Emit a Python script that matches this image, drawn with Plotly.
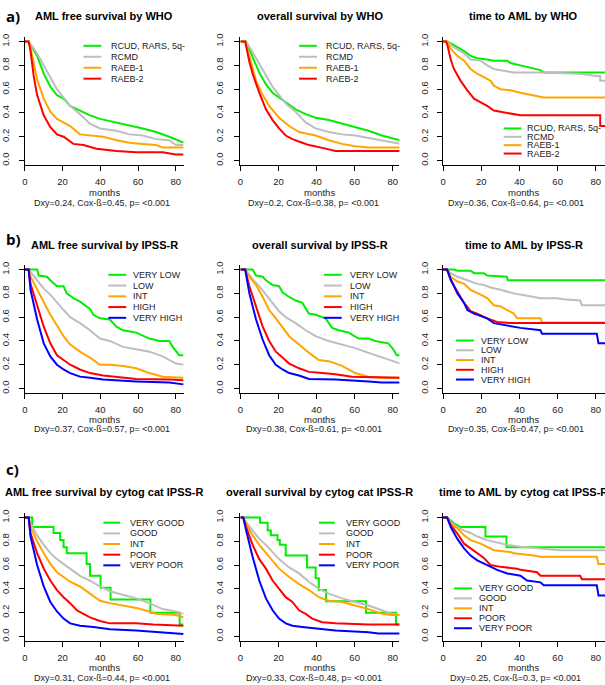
import plotly.graph_objects as go

W, H = 605, 685
GREEN, GRAY, ORANGE, RED, BLUE = '#00ee00', '#bebebe', '#ffa500', '#ff0000', '#0000ff'
FONT = 'Liberation Sans, Arial, sans-serif'

month_ticks = [0, 20, 40, 60, 80]
surv_ticks = [0.0, 0.2, 0.4, 0.6, 0.8, 1.0]
surv_labels = ['0.0', '0.2', '0.4', '0.6', '0.8', '1.0']

who_labels = ['RCUD, RARS, 5q-', 'RCMD', 'RAEB-1', 'RAEB-2']
ipss_labels = ['VERY LOW', 'LOW', 'INT', 'HIGH', 'VERY HIGH']
cyto_labels = ['VERY GOOD', 'GOOD', 'INT', 'POOR', 'VERY POOR']

titles = [
    'AML free survival by WHO', 'overall survival by WHO', 'time to AML by WHO',
    'AML free survival by IPSS-R', 'overall survival by IPSS-R', 'time to AML by IPSS-R',
    'AML free survival by cytog cat IPSS-R', 'overall survival by cytog cat IPSS-R',
    'time to AML by cytog cat IPSS-R',
]
stats = [
    'Dxy=0.24, Cox-ß=0.45, p= &lt;0.001', 'Dxy=0.2, Cox-ß=0.38, p= &lt;0.001',
    'Dxy=0.36, Cox-ß=0.64, p= &lt;0.001',
    'Dxy=0.37, Cox-ß=0.57, p= &lt;0.001', 'Dxy=0.38, Cox-ß=0.61, p= &lt;0.001',
    'Dxy=0.35, Cox-ß=0.47, p= &lt;0.001',
    'Dxy=0.31, Cox-ß=0.44, p= &lt;0.001', 'Dxy=0.33, Cox-ß=0.48, p= &lt;0.001',
    'Dxy=0.25, Cox-ß=0.3, p= &lt;0.001',
]

# ---------------- a) WHO : AML free survival ----------------
a1_rcud_t = [0, 2, 6.5, 10, 13.5, 17, 20.5, 24, 29.2, 34.5, 39.8, 48.5, 55.5, 62.5, 69.5, 76.5, 84]
a1_rcud_s = [1, 1, 0.88, 0.73, 0.62, 0.55, 0.52, 0.46, 0.42, 0.38, 0.35, 0.32, 0.29, 0.27, 0.24, 0.20, 0.15]
a1_rcmd_t = [0, 2, 6.5, 10, 13.5, 17, 20.5, 24, 29.2, 34.5, 39.8, 48.5, 55.5, 62.5, 69.5, 76.5, 80, 84]
a1_rcmd_s = [1, 1, 0.90, 0.80, 0.70, 0.60, 0.53, 0.46, 0.39, 0.31, 0.27, 0.25, 0.22, 0.21, 0.18, 0.17, 0.13, 0.13]
a1_raeb1_t = [0, 2, 3, 6.5, 10, 13.5, 17, 24, 29.2, 34.5, 41.5, 48.5, 55.5, 62.5, 69.5, 73, 84]
a1_raeb1_s = [1, 1, 0.95, 0.68, 0.52, 0.41, 0.35, 0.29, 0.22, 0.21, 0.20, 0.17, 0.15, 0.14, 0.13, 0.11, 0.11]
a1_raeb2_t = [0, 2, 3, 4.7, 6.5, 10, 13.5, 17, 20.5, 25.7, 31, 36.3, 38, 48.5, 59, 73, 76.5, 80, 84]
a1_raeb2_s = [1, 1, 0.92, 0.71, 0.55, 0.38, 0.28, 0.22, 0.20, 0.14, 0.13, 0.11, 0.10, 0.08, 0.07, 0.07, 0.06, 0.05, 0.05]

# ---------------- a) WHO : overall survival ----------------
a2_rcud_t = [0, 3, 6.4, 9.9, 13.4, 16.9, 20.3, 23.8, 29.0, 34.3, 39.5, 46.4, 53.4, 60.3, 67.3, 74.3, 79.5, 84]
a2_rcud_s = [1, 1, 0.87, 0.74, 0.64, 0.57, 0.53, 0.49, 0.43, 0.39, 0.36, 0.34, 0.31, 0.28, 0.25, 0.21, 0.19, 0.17]
a2_rcmd_t = [0, 3, 6.4, 9.9, 13.4, 16.9, 20.3, 23.8, 29.0, 34.3, 39.5, 46.4, 53.4, 60.3, 67.3, 74.3, 79.5, 84]
a2_rcmd_s = [1, 1, 0.91, 0.81, 0.71, 0.62, 0.55, 0.48, 0.41, 0.32, 0.27, 0.24, 0.22, 0.21, 0.19, 0.17, 0.15, 0.14]
a2_raeb1_t = [0, 2.5, 4.7, 8.2, 11.7, 15.1, 20.3, 25.6, 30.8, 39.5, 46.4, 53.4, 60.3, 67.3, 84]
a2_raeb1_s = [1, 1, 0.88, 0.67, 0.55, 0.46, 0.36, 0.29, 0.24, 0.21, 0.17, 0.14, 0.12, 0.11, 0.11]
a2_raeb2_t = [0, 2.5, 4.7, 6.4, 9.9, 13.4, 16.9, 20.3, 23.8, 27.3, 32.5, 36, 44.7, 49.9, 77.7, 84]
a2_raeb2_s = [1, 1, 0.83, 0.73, 0.57, 0.43, 0.34, 0.27, 0.21, 0.18, 0.15, 0.13, 0.10, 0.08, 0.08, 0.08]

# ---------------- a) WHO : time to AML ----------------
a3_rcud_t = [0, 2.3, 5.7, 11.0, 14.4, 17.9, 23.1, 26.6, 33.6, 35.3, 40.5, 47.5, 51.0, 52.7, 85]
a3_rcud_s = [1, 1, 0.97, 0.92, 0.88, 0.86, 0.85, 0.84, 0.84, 0.82, 0.80, 0.77, 0.76, 0.74, 0.74]
a3_rcmd_t = [0, 2.3, 5.7, 11.0, 14.4, 19.7, 23.1, 26.6, 30.1, 37.0, 51.0, 71.8, 80.5, 82.3, 82.3, 85]
a3_rcmd_s = [1, 1, 0.95, 0.90, 0.85, 0.84, 0.80, 0.77, 0.76, 0.74, 0.74, 0.73, 0.71, 0.71, 0.67, 0.67]
a3_raeb1_t = [0, 2.3, 4.0, 7.5, 11.0, 14.4, 17.9, 21.4, 24.9, 26.6, 30.1, 35.3, 40.5, 52.7, 85]
a3_raeb1_s = [1, 1, 0.94, 0.88, 0.84, 0.77, 0.73, 0.70, 0.67, 0.63, 0.60, 0.59, 0.57, 0.53, 0.53]
a3_raeb2_t = [0, 1.6, 2.3, 4.0, 5.7, 9.2, 12.7, 16.2, 19.7, 23.1, 26.6, 30.1, 40.5, 82.3, 82.3, 85]
a3_raeb2_s = [1, 1, 0.97, 0.85, 0.77, 0.67, 0.59, 0.52, 0.49, 0.46, 0.42, 0.41, 0.38, 0.38, 0.29, 0.29]

# ---------------- b) IPSS-R : AML free survival ----------------
b1_vlow_t = [0, 6.5, 7.4, 11.7, 13.5, 17, 20.5, 22.2, 25.7, 29.2, 34.5, 36.3, 39.8, 45, 48.5, 52, 59, 66, 71.3, 76.5, 78.3, 81.8, 84]
b1_vlow_s = [1, 1, 0.95, 0.94, 0.91, 0.86, 0.86, 0.80, 0.76, 0.73, 0.67, 0.62, 0.59, 0.58, 0.52, 0.49, 0.47, 0.42, 0.40, 0.40, 0.35, 0.28, 0.28]
b1_low_t = [0, 2, 3, 6.5, 10, 13.5, 17, 20.5, 24, 29.2, 34.5, 39.8, 45, 52, 59, 66, 73, 80, 84]
b1_low_s = [1, 1, 0.98, 0.91, 0.84, 0.79, 0.72, 0.66, 0.60, 0.55, 0.49, 0.42, 0.40, 0.35, 0.33, 0.31, 0.27, 0.21, 0.20]
b1_int_t = [0, 2, 3, 6.5, 10, 13.5, 17, 20.5, 24, 29.2, 34.5, 39.8, 45, 52, 59, 66, 73, 80, 84]
b1_int_s = [1, 1, 0.94, 0.83, 0.72, 0.62, 0.53, 0.44, 0.37, 0.31, 0.26, 0.20, 0.20, 0.19, 0.17, 0.13, 0.10, 0.09, 0.09]
b1_high_t = [0, 2, 3, 6.5, 10, 13.5, 17, 20.5, 24, 29.2, 34.5, 41.5, 48.5, 59, 76.5, 84]
b1_high_s = [1, 1, 0.88, 0.69, 0.52, 0.38, 0.28, 0.24, 0.20, 0.16, 0.13, 0.11, 0.10, 0.08, 0.075, 0.07]
b1_vhigh_t = [0, 2, 3, 6.5, 10, 13.5, 17, 20.5, 24, 29.2, 34.5, 41.5, 59, 76.5, 84]
b1_vhigh_s = [1, 1, 0.83, 0.58, 0.38, 0.27, 0.20, 0.16, 0.13, 0.10, 0.09, 0.075, 0.06, 0.05, 0.035]

# ---------------- b) IPSS-R : overall survival ----------------
b2_vlow_t = [0, 6.4, 8.2, 11.7, 13.4, 16.9, 20.3, 22.1, 25.6, 29.0, 32.5, 36.0, 39.5, 44.7, 48.2, 51.7, 56.9, 62.1, 67.3, 70.8, 77.7, 80.3, 82.1, 84]
b2_vlow_s = [1, 1, 0.95, 0.94, 0.91, 0.87, 0.86, 0.81, 0.77, 0.74, 0.72, 0.63, 0.62, 0.59, 0.51, 0.49, 0.47, 0.42, 0.42, 0.40, 0.38, 0.33, 0.28, 0.28]
b2_low_t = [0, 2.5, 6.4, 9.9, 13.4, 16.9, 20.3, 23.8, 29.0, 34.3, 39.5, 46.4, 53.4, 60.3, 67.3, 74.3, 79.5, 84]
b2_low_s = [1, 1, 0.92, 0.86, 0.79, 0.72, 0.65, 0.60, 0.55, 0.49, 0.44, 0.40, 0.37, 0.34, 0.30, 0.26, 0.23, 0.21]
b2_int_t = [0, 2.5, 4.7, 8.2, 11.7, 15.1, 18.6, 22.1, 25.6, 30.8, 36.0, 41.2, 46.4, 53.4, 60.3, 67.3, 74.3, 84]
b2_int_s = [1, 1, 0.94, 0.87, 0.77, 0.66, 0.59, 0.52, 0.44, 0.37, 0.30, 0.24, 0.23, 0.19, 0.13, 0.10, 0.09, 0.09]
b2_high_t = [0, 2.5, 4.7, 8.2, 11.7, 15.1, 18.6, 22.1, 25.6, 30.8, 36.0, 43.0, 49.9, 58.6, 74.3, 84]
b2_high_s = [1, 1, 0.86, 0.69, 0.52, 0.40, 0.31, 0.26, 0.21, 0.17, 0.14, 0.13, 0.12, 0.10, 0.09, 0.09]
b2_vhigh_t = [0, 2.5, 4.7, 8.2, 11.7, 15.1, 18.6, 22.1, 25.6, 30.8, 36.0, 49.9, 67.3, 74.3, 84]
b2_vhigh_s = [1, 1, 0.80, 0.58, 0.41, 0.28, 0.20, 0.16, 0.13, 0.11, 0.08, 0.075, 0.06, 0.05, 0.05]

# ---------------- b) IPSS-R : time to AML ----------------
b3_vlow_t = [0, 5.7, 7.5, 14.4, 16.2, 21.4, 23.1, 30.1, 33.4, 33.9, 85]
b3_vlow_s = [1, 1, 0.99, 0.99, 0.97, 0.97, 0.95, 0.94, 0.94, 0.91, 0.91]
b3_low_t = [0, 2.1, 4.0, 7.5, 12.7, 17.9, 21.4, 24.9, 30.1, 37.0, 44.0, 51.0, 59.7, 63.1, 71.8, 72.7, 85]
b3_low_s = [1, 1, 0.97, 0.94, 0.91, 0.88, 0.87, 0.85, 0.83, 0.80, 0.78, 0.76, 0.76, 0.75, 0.74, 0.70, 0.70]
b3_int_t = [0, 2.1, 4.0, 7.5, 11.0, 14.4, 19.7, 23.1, 26.6, 30.1, 33.6, 37.0, 38.8, 51.0, 51.8, 85]
b3_int_s = [1, 1, 0.94, 0.90, 0.88, 0.83, 0.79, 0.76, 0.70, 0.69, 0.66, 0.63, 0.59, 0.59, 0.555, 0.555]
b3_high_t = [0, 2.1, 4.0, 7.5, 11.0, 14.4, 17.9, 23.1, 28.3, 35.3, 85]
b3_high_s = [1, 1, 0.91, 0.81, 0.72, 0.65, 0.63, 0.59, 0.56, 0.55, 0.55]
b3_vhigh_t = [0, 2.1, 4.0, 7.5, 11.0, 12.7, 16.2, 23.1, 26.6, 31.8, 38.8, 40.5, 51.0, 51.8, 80.5, 81.4, 85]
b3_vhigh_s = [1, 1, 0.92, 0.80, 0.72, 0.66, 0.63, 0.59, 0.55, 0.535, 0.52, 0.51, 0.49, 0.46, 0.46, 0.38, 0.38]

# ---------------- c) cytogenetics : AML free survival ----------------
c1_vgood_t = [0, 3.9, 3.9, 15.2, 15.2, 18.7, 18.7, 20.5, 20.5, 22.2, 22.2, 32.7, 32.7, 34.5, 34.5, 40.1, 40.1, 45.4, 45.4, 66.5, 66.5, 82, 82, 84]
c1_vgood_s = [1, 1, 0.92, 0.92, 0.87, 0.87, 0.81, 0.81, 0.75, 0.75, 0.70, 0.70, 0.61, 0.61, 0.51, 0.51, 0.41, 0.41, 0.31, 0.31, 0.20, 0.20, 0.10, 0.10]
c1_good_t = [0, 2, 3, 6.5, 10, 13.5, 17, 20.5, 24, 29.2, 34.5, 39.8, 45, 52, 59, 66, 73, 80, 84]
c1_good_s = [1, 1, 0.95, 0.85, 0.77, 0.70, 0.65, 0.61, 0.57, 0.51, 0.47, 0.42, 0.38, 0.35, 0.32, 0.28, 0.23, 0.21, 0.19]
c1_int_t = [0, 2, 3, 6.5, 10, 13.5, 17, 20.5, 24, 29.2, 34.5, 39.8, 45, 52, 59, 66, 69.5, 80, 84]
c1_int_s = [1, 1, 0.92, 0.80, 0.70, 0.61, 0.54, 0.50, 0.46, 0.42, 0.36, 0.30, 0.28, 0.26, 0.24, 0.21, 0.19, 0.18, 0.16]
c1_poor_t = [0, 2, 3, 6.5, 10, 13.5, 17, 20.5, 24, 27.5, 31, 34.5, 39.8, 45, 59, 68, 84]
c1_poor_s = [1, 1, 0.87, 0.70, 0.57, 0.47, 0.39, 0.33, 0.28, 0.22, 0.19, 0.16, 0.13, 0.11, 0.11, 0.10, 0.09]
c1_vpoor_t = [0, 2, 3, 6.5, 10, 13.5, 17, 20.5, 24, 29.2, 36.3, 45, 59, 69.5, 84]
c1_vpoor_s = [1, 1, 0.84, 0.60, 0.42, 0.29, 0.21, 0.15, 0.11, 0.09, 0.08, 0.06, 0.05, 0.04, 0.02]

# ---------------- c) cytogenetics : overall survival ----------------
c2_vgood_t = [0, 10.3, 10.3, 14.3, 14.3, 16, 16, 19.5, 19.5, 20.7, 20.7, 23.8, 23.8, 35, 35, 39.5, 39.5, 41.2, 41.2, 45, 45, 66, 66, 81.7, 81.7, 84]
c2_vgood_s = [1, 1, 0.955, 0.955, 0.89, 0.89, 0.85, 0.85, 0.81, 0.81, 0.77, 0.77, 0.68, 0.68, 0.58, 0.58, 0.49, 0.49, 0.39, 0.39, 0.295, 0.295, 0.20, 0.20, 0.10, 0.10]
c2_good_t = [0, 1.5, 3.0, 6.4, 9.9, 13.4, 16.9, 20.3, 25.6, 30.8, 36.0, 41.2, 46.4, 53.4, 60.3, 67.3, 74.3, 79.5, 84]
c2_good_s = [1, 1, 0.96, 0.89, 0.82, 0.77, 0.71, 0.65, 0.58, 0.53, 0.46, 0.40, 0.36, 0.32, 0.29, 0.26, 0.22, 0.19, 0.18]
c2_int_t = [0, 1.5, 3.0, 6.4, 9.9, 13.4, 16.9, 20.3, 25.6, 30.8, 36.0, 41.2, 46.4, 53.4, 60.3, 67.3, 74.3, 79.5, 84]
c2_int_s = [1, 1, 0.95, 0.85, 0.77, 0.70, 0.64, 0.57, 0.50, 0.44, 0.39, 0.33, 0.30, 0.29, 0.26, 0.23, 0.19, 0.18, 0.18]
c2_poor_t = [0, 1.5, 3.0, 6.4, 9.9, 13.4, 16.9, 20.3, 23.8, 27.3, 30.8, 34.3, 37.7, 43.0, 49.9, 67.3, 84]
c2_poor_s = [1, 1, 0.92, 0.77, 0.65, 0.57, 0.47, 0.40, 0.33, 0.29, 0.22, 0.19, 0.15, 0.12, 0.11, 0.10, 0.10]
c2_vpoor_t = [0, 1.5, 3.0, 6.4, 9.9, 13.4, 16.9, 20.3, 23.8, 27.3, 32.5, 41.2, 49.9, 67.3, 72.5, 84]
c2_vpoor_s = [1, 1, 0.89, 0.67, 0.47, 0.32, 0.22, 0.15, 0.11, 0.09, 0.08, 0.065, 0.05, 0.035, 0.025, 0.025]

# ---------------- c) cytogenetics : time to AML ----------------
c3_vgood_t = [0, 2.3, 5.7, 9.2, 22.2, 22.2, 33.2, 33.2, 85]
c3_vgood_s = [1, 1, 0.95, 0.92, 0.92, 0.84, 0.84, 0.75, 0.75]
c3_good_t = [0, 2.1, 4.0, 7.5, 11.0, 14.4, 17.9, 23.1, 28.3, 33.6, 40.5, 51.0, 61.4, 85]
c3_good_s = [1, 1, 0.96, 0.92, 0.89, 0.87, 0.84, 0.81, 0.79, 0.77, 0.755, 0.74, 0.725, 0.725]
c3_int_t = [0, 2.1, 4.0, 7.5, 11.0, 14.4, 19.7, 26.6, 35.3, 37.0, 47.5, 51.0, 80.5, 81.4, 85]
c3_int_s = [1, 1, 0.95, 0.91, 0.85, 0.81, 0.78, 0.725, 0.71, 0.70, 0.68, 0.67, 0.67, 0.61, 0.61]
c3_poor_t = [0, 2.1, 4.0, 7.5, 11.0, 14.4, 17.9, 21.4, 24.9, 30.1, 38.8, 40.5, 49.2, 51.0, 71.8, 72.7, 85]
c3_poor_s = [1, 1, 0.935, 0.865, 0.78, 0.74, 0.70, 0.66, 0.60, 0.585, 0.57, 0.56, 0.54, 0.51, 0.51, 0.48, 0.48]
c3_vpoor_t = [0, 2.1, 4.0, 7.5, 11.0, 14.4, 17.9, 23.1, 28.3, 33.6, 40.5, 44.0, 51.0, 52.7, 80.5, 81.4, 85]
c3_vpoor_s = [1, 1, 0.92, 0.82, 0.74, 0.68, 0.64, 0.60, 0.56, 0.53, 0.51, 0.47, 0.455, 0.43, 0.43, 0.345, 0.345]

colors5 = [GREEN, GRAY, ORANGE, RED, BLUE]

panel_series = [
    [(a1_rcud_t, a1_rcud_s), (a1_rcmd_t, a1_rcmd_s), (a1_raeb1_t, a1_raeb1_s), (a1_raeb2_t, a1_raeb2_s)],
    [(a2_rcud_t, a2_rcud_s), (a2_rcmd_t, a2_rcmd_s), (a2_raeb1_t, a2_raeb1_s), (a2_raeb2_t, a2_raeb2_s)],
    [(a3_rcud_t, a3_rcud_s), (a3_rcmd_t, a3_rcmd_s), (a3_raeb1_t, a3_raeb1_s), (a3_raeb2_t, a3_raeb2_s)],
    [(b1_vlow_t, b1_vlow_s), (b1_low_t, b1_low_s), (b1_int_t, b1_int_s), (b1_high_t, b1_high_s), (b1_vhigh_t, b1_vhigh_s)],
    [(b2_vlow_t, b2_vlow_s), (b2_low_t, b2_low_s), (b2_int_t, b2_int_s), (b2_high_t, b2_high_s), (b2_vhigh_t, b2_vhigh_s)],
    [(b3_vlow_t, b3_vlow_s), (b3_low_t, b3_low_s), (b3_int_t, b3_int_s), (b3_high_t, b3_high_s), (b3_vhigh_t, b3_vhigh_s)],
    [(c1_vgood_t, c1_vgood_s), (c1_good_t, c1_good_s), (c1_int_t, c1_int_s), (c1_poor_t, c1_poor_s), (c1_vpoor_t, c1_vpoor_s)],
    [(c2_vgood_t, c2_vgood_s), (c2_good_t, c2_good_s), (c2_int_t, c2_int_s), (c2_poor_t, c2_poor_s), (c2_vpoor_t, c2_vpoor_s)],
    [(c3_vgood_t, c3_vgood_s), (c3_good_t, c3_good_s), (c3_int_t, c3_int_s), (c3_poor_t, c3_poor_s), (c3_vpoor_t, c3_vpoor_s)],
]
panel_labels = [who_labels] * 3 + [ipss_labels] * 3 + [cyto_labels] * 3

# ---------------- layout geometry (pixels) ----------------
col_geom = [(21, 181, 84.2), (238, 398, 83.5), (442, 605, 84.8)]   # x0, x1, xmax
row_geom = [(34, 163), (263, 392), (512, 641)]                       # top, bottom
y_standoff = [6, 8, 5]
title_y = [13, 243, 491]
months_y = [190, 418, 667]
stats_y = [201, 427.5, 678]
stats_dx = [-2, -6, -8]
# legend: line x0, line x1, text x, first row y, row step
legend_geom = [
    (80, 98, 106, 43, 11), (297, 315, 322, 43, 11), (503, 521, 524, 126, 8.4),
    (105, 123, 128, 273, 10.8), (322, 340, 346, 273, 10.8), (455, 473, 478, 339, 9.8),
    (100, 117, 125, 522, 10.7), (317, 333, 342, 522, 10.7), (453, 471, 476, 588, 10),
]
letters = [('a)', 13), ('b)', 237), ('c)', 468)]


def px(x):
    return x / W


def py(y):
    return 1 - y / H


fig = go.Figure()
annotations = []
shapes = []
layout_axes = {}

for k in range(9):
    r, c = divmod(k, 3)
    idx = '' if k == 0 else str(k + 1)
    x0, x1, xmax = col_geom[c]
    top, bot = row_geom[r]
    axis_common = dict(showline=True, linecolor='black', linewidth=1, ticks='outside', ticklen=5,
                       tickcolor='black', tickwidth=1, showgrid=False, zeroline=False,
                       tickfont=dict(family=FONT, size=9.5, color='#222'), fixedrange=True,
                       ticklabeloverflow='allow')
    layout_axes['xaxis' + idx] = dict(domain=[px(x0), px(x1)], range=[0, xmax], anchor='y' + idx,
                                      tickvals=month_ticks, ticklabelstandoff=2, **axis_common)
    layout_axes['yaxis' + idx] = dict(domain=[py(bot), py(top)], range=[-0.04, 1.04], anchor='x' + idx,
                                      tickvals=surv_ticks, ticktext=surv_labels, tickangle=-90,
                                      ticklabelstandoff=y_standoff[c], **axis_common)
    for (t, s), col in zip(panel_series[k], colors5):
        fig.add_trace(go.Scatter(x=t, y=s, mode='lines', line=dict(color=col, width=2),
                                 xaxis='x' + idx, yaxis='y' + idx, showlegend=False, hoverinfo='skip'))
    cx = (x0 + x1) / 2 if c < 2 else 523
    annotations.append(dict(text='<b>%s</b>' % titles[k], x=px(cx), y=py(title_y[r]), xref='paper', yref='paper',
                            showarrow=False, xanchor='center', yanchor='middle',
                            font=dict(family=FONT, size=11, color='black')))
    annotations.append(dict(text='months', x=px(cx), y=py(months_y[r]), xref='paper', yref='paper',
                            showarrow=False, xanchor='center', yanchor='middle',
                            font=dict(family=FONT, size=9.5, color='#222')))
    annotations.append(dict(text=stats[k], x=px(cx + stats_dx[c]), y=py(stats_y[r]), xref='paper', yref='paper',
                            showarrow=False, xanchor='center', yanchor='middle',
                            font=dict(family=FONT, size=9, color='#222')))
    lx0, lx1, tx, ly, dy = legend_geom[k]
    for i, (lab, col) in enumerate(zip(panel_labels[k], colors5)):
        yy = ly + i * dy
        shapes.append(dict(type='line', xref='paper', yref='paper', x0=px(lx0), x1=px(lx1),
                           y0=py(yy), y1=py(yy), line=dict(color=col, width=2)))
        annotations.append(dict(text=lab, x=px(tx), y=py(yy), xref='paper', yref='paper', showarrow=False,
                                xanchor='left', yanchor='middle',
                                font=dict(family=FONT, size=9, color='#222')))

for txt, yy in letters:
    annotations.append(dict(text='<b>%s</b>' % txt, x=px(0), y=py(yy), xref='paper', yref='paper',
                            showarrow=False, xanchor='left', yanchor='middle',
                            font=dict(family='Open Sans, Liberation Sans, sans-serif', size=15, color='black')))

fig.update_layout(width=W, height=H, margin=dict(l=0, r=0, t=0, b=0), paper_bgcolor='white',
                  plot_bgcolor='white', showlegend=False, annotations=annotations, shapes=shapes,
                  **layout_axes)

fig.write_html("out.html", config={'displayModeBar': False},
               post_script="document.body.style.margin='0';")
